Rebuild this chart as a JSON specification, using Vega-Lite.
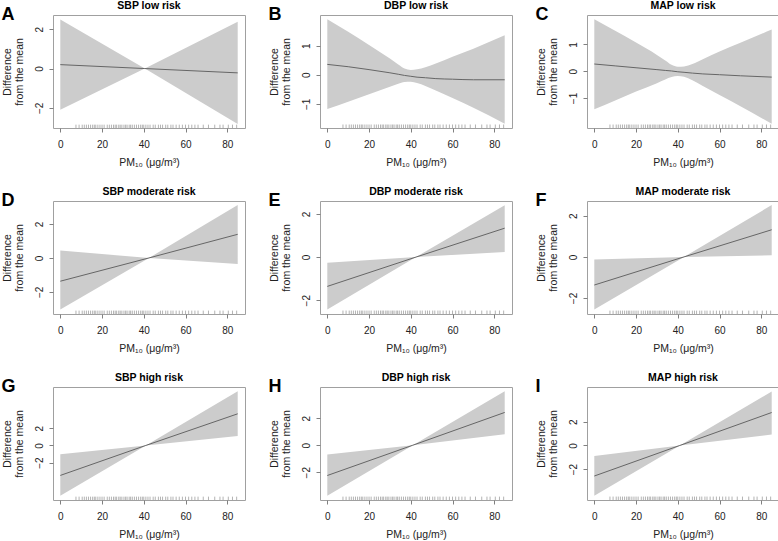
{
  "$schema": "https://vega.github.io/schema/vega-lite/v6.json",
  "padding": {"left": 1, "top": 0, "right": 0, "bottom": 0},
  "background": "white",
  "datasets": {
    "curves": [
      {"p": "A", "x": 0, "lo": -2.10, "fit": 0.20, "hi": 2.50},
      {"p": "A", "x": 40.5, "lo": 0, "fit": 0, "hi": 0},
      {"p": "A", "x": 85, "lo": -2.82, "fit": -0.22, "hi": 2.38},
      {"p": "B", "x": 0, "lo": -1.18, "fit": 0.36, "hi": 1.91},
      {"p": "B", "x": 10, "lo": -0.93, "fit": 0.28, "hi": 1.48},
      {"p": "B", "x": 20, "lo": -0.67, "fit": 0.18, "hi": 1.03},
      {"p": "B", "x": 30, "lo": -0.41, "fit": 0.07, "hi": 0.56},
      {"p": "B", "x": 34, "lo": -0.31, "fit": 0.02, "hi": 0.36},
      {"p": "B", "x": 37, "lo": -0.25, "fit": -0.02, "hi": 0.22},
      {"p": "B", "x": 40, "lo": -0.24, "fit": -0.05, "hi": 0.17},
      {"p": "B", "x": 43, "lo": -0.28, "fit": -0.08, "hi": 0.19},
      {"p": "B", "x": 47, "lo": -0.38, "fit": -0.10, "hi": 0.26},
      {"p": "B", "x": 52, "lo": -0.54, "fit": -0.13, "hi": 0.39},
      {"p": "B", "x": 60, "lo": -0.80, "fit": -0.15, "hi": 0.62},
      {"p": "B", "x": 70, "lo": -1.13, "fit": -0.17, "hi": 0.90},
      {"p": "B", "x": 85, "lo": -1.68, "fit": -0.17, "hi": 1.36},
      {"p": "C", "x": 0, "lo": -1.42, "fit": 0.27, "hi": 1.94},
      {"p": "C", "x": 10, "lo": -1.09, "fit": 0.20, "hi": 1.51},
      {"p": "C", "x": 20, "lo": -0.76, "fit": 0.13, "hi": 1.07},
      {"p": "C", "x": 30, "lo": -0.45, "fit": 0.06, "hi": 0.61},
      {"p": "C", "x": 34, "lo": -0.31, "fit": 0.03, "hi": 0.40},
      {"p": "C", "x": 37, "lo": -0.22, "fit": 0.01, "hi": 0.24},
      {"p": "C", "x": 40, "lo": -0.18, "fit": -0.02, "hi": 0.17},
      {"p": "C", "x": 43, "lo": -0.21, "fit": -0.04, "hi": 0.18},
      {"p": "C", "x": 47, "lo": -0.34, "fit": -0.07, "hi": 0.27},
      {"p": "C", "x": 52, "lo": -0.55, "fit": -0.10, "hi": 0.45},
      {"p": "C", "x": 60, "lo": -0.89, "fit": -0.13, "hi": 0.74},
      {"p": "C", "x": 70, "lo": -1.31, "fit": -0.17, "hi": 1.06},
      {"p": "C", "x": 85, "lo": -1.96, "fit": -0.22, "hi": 1.56},
      {"p": "D", "x": 0, "lo": -3.04, "fit": -1.37, "hi": 0.43},
      {"p": "D", "x": 42.5, "lo": 0, "fit": 0, "hi": 0},
      {"p": "D", "x": 85, "lo": -0.36, "fit": 1.39, "hi": 3.11},
      {"p": "E", "x": 0, "lo": -2.43, "fit": -1.36, "hi": -0.26},
      {"p": "E", "x": 42.5, "lo": 0, "fit": 0, "hi": 0},
      {"p": "E", "x": 85, "lo": 0.24, "fit": 1.34, "hi": 2.40},
      {"p": "F", "x": 0, "lo": -2.56, "fit": -1.37, "hi": -0.13},
      {"p": "F", "x": 43, "lo": 0, "fit": 0, "hi": 0},
      {"p": "F", "x": 85, "lo": 0.08, "fit": 1.32, "hi": 2.52},
      {"p": "G", "x": 0, "lo": -5.85, "fit": -3.49, "hi": -1.02},
      {"p": "G", "x": 41, "lo": 0, "fit": 0, "hi": 0},
      {"p": "G", "x": 85, "lo": 1.09, "fit": 3.68, "hi": 6.31},
      {"p": "H", "x": 0, "lo": -3.73, "fit": -2.24, "hi": -0.69},
      {"p": "H", "x": 41, "lo": 0, "fit": 0, "hi": 0},
      {"p": "H", "x": 85, "lo": 0.80, "fit": 2.42, "hi": 3.98},
      {"p": "I", "x": 0, "lo": -4.25, "fit": -2.59, "hi": -0.89},
      {"p": "I", "x": 41, "lo": 0, "fit": 0, "hi": 0},
      {"p": "I", "x": 85, "lo": 0.92, "fit": 2.79, "hi": 4.57}
    ],
    "rug": [
      {"x": 7.5}, {"x": 9}, {"x": 10.5}, {"x": 11.5}, {"x": 12.5}, {"x": 13.5}, {"x": 14.5}, {"x": 15.5}, {"x": 16.3}, {"x": 17}, {"x": 18}, {"x": 19}, {"x": 20}, {"x": 21}, {"x": 22.5}, {"x": 23.5}, {"x": 24.5}, {"x": 25.5}, {"x": 26.3}, {"x": 27}, {"x": 28}, {"x": 28.7}, {"x": 29.5}, {"x": 30.5}, {"x": 31.3}, {"x": 32}, {"x": 33}, {"x": 33.7}, {"x": 34.5}, {"x": 35.5}, {"x": 36.5}, {"x": 37.5}, {"x": 38.5}, {"x": 39.3}, {"x": 40}, {"x": 41}, {"x": 42}, {"x": 43}, {"x": 44.5}, {"x": 45.5}, {"x": 47}, {"x": 48}, {"x": 49}, {"x": 50.5}, {"x": 51.5}, {"x": 53}, {"x": 54}, {"x": 55.5}, {"x": 57}, {"x": 58.5}, {"x": 60}, {"x": 61.5}, {"x": 63}, {"x": 64.5}, {"x": 66}, {"x": 68.5}, {"x": 71}, {"x": 74}, {"x": 76.5}, {"x": 78}, {"x": 80.5}, {"x": 82.5}, {"x": 84.5}
    ]
  },
  "columns": 3,
  "spacing": {"row": 18, "column": 22},
  "concat": [
    {"title": {"text": "A", "fontSize": 18, "anchor": "start", "offset": -24}, "vconcat": [{"width": 192, "height": 113, "title": {"text": "SBP low risk"},
      "encoding": {"x": {"field": "x", "type": "quantitative", "scale": {"domain": [-3.5, 88.5], "nice": false, "zero": false}, "axis": {"values": [0, 20, 40, 60, 80], "title": "PM₁₀ (μg/m³)"}}},
      "layer": [
        {"data": {"name": "curves"}, "transform": [{"filter": "datum.p == 'A'"}], "mark": {"type": "area", "color": "#cccccc"}, "encoding": {"y": {"field": "lo", "type": "quantitative", "scale": {"domain": [-3.03, 2.73], "nice": false, "zero": false}, "axis": {"values": [-2, 0, 2], "title": ["Difference", "from the mean"]}}, "y2": {"field": "hi"}}},
        {"data": {"name": "curves"}, "transform": [{"filter": "datum.p == 'A'"}], "mark": {"type": "line", "color": "#666666", "strokeWidth": 1}, "encoding": {"y": {"field": "fit", "type": "quantitative"}}},
        {"data": {"name": "rug"}, "mark": {"type": "rule", "color": "#808080", "strokeWidth": 0.6}, "encoding": {"y": {"datum": -3.03}, "y2": {"datum": -2.86}}}
      ]}]},
    {"title": {"text": "B", "fontSize": 18, "anchor": "start", "offset": -24}, "vconcat": [{"width": 192, "height": 113, "title": {"text": "DBP low risk"},
      "encoding": {"x": {"field": "x", "type": "quantitative", "scale": {"domain": [-3.5, 88.5], "nice": false, "zero": false}, "axis": {"values": [0, 20, 40, 60, 80], "title": "PM₁₀ (μg/m³)"}}},
      "layer": [
        {"data": {"name": "curves"}, "transform": [{"filter": "datum.p == 'B'"}], "mark": {"type": "area", "color": "#cccccc", "interpolate": "monotone"}, "encoding": {"y": {"field": "lo", "type": "quantitative", "scale": {"domain": [-1.83, 2.06], "nice": false, "zero": false}, "axis": {"values": [-1, 0, 1], "title": ["Difference", "from the mean"]}}, "y2": {"field": "hi"}}},
        {"data": {"name": "curves"}, "transform": [{"filter": "datum.p == 'B'"}], "mark": {"type": "line", "color": "#666666", "strokeWidth": 1, "interpolate": "monotone"}, "encoding": {"y": {"field": "fit", "type": "quantitative"}}},
        {"data": {"name": "rug"}, "mark": {"type": "rule", "color": "#808080", "strokeWidth": 0.6}, "encoding": {"y": {"datum": -1.83}, "y2": {"datum": -1.71}}}
      ]}]},
    {"title": {"text": "C", "fontSize": 18, "anchor": "start", "offset": -24}, "vconcat": [{"width": 192, "height": 113, "title": {"text": "MAP low risk"},
      "encoding": {"x": {"field": "x", "type": "quantitative", "scale": {"domain": [-3.5, 88.5], "nice": false, "zero": false}, "axis": {"values": [0, 20, 40, 60, 80], "title": "PM₁₀ (μg/m³)"}}},
      "layer": [
        {"data": {"name": "curves"}, "transform": [{"filter": "datum.p == 'C'"}], "mark": {"type": "area", "color": "#cccccc", "interpolate": "monotone"}, "encoding": {"y": {"field": "lo", "type": "quantitative", "scale": {"domain": [-2.12, 2.1], "nice": false, "zero": false}, "axis": {"values": [-1, 0, 1], "title": ["Difference", "from the mean"]}}, "y2": {"field": "hi"}}},
        {"data": {"name": "curves"}, "transform": [{"filter": "datum.p == 'C'"}], "mark": {"type": "line", "color": "#666666", "strokeWidth": 1, "interpolate": "monotone"}, "encoding": {"y": {"field": "fit", "type": "quantitative"}}},
        {"data": {"name": "rug"}, "mark": {"type": "rule", "color": "#808080", "strokeWidth": 0.6}, "encoding": {"y": {"datum": -2.12}, "y2": {"datum": -1.99}}}
      ]}]},
    {"title": {"text": "D", "fontSize": 18, "anchor": "start", "offset": -24}, "vconcat": [{"width": 192, "height": 113, "title": {"text": "SBP moderate risk"},
      "encoding": {"x": {"field": "x", "type": "quantitative", "scale": {"domain": [-3.5, 88.5], "nice": false, "zero": false}, "axis": {"values": [0, 20, 40, 60, 80], "title": "PM₁₀ (μg/m³)"}}},
      "layer": [
        {"data": {"name": "curves"}, "transform": [{"filter": "datum.p == 'D'"}], "mark": {"type": "area", "color": "#cccccc"}, "encoding": {"y": {"field": "lo", "type": "quantitative", "scale": {"domain": [-3.3, 3.35], "nice": false, "zero": false}, "axis": {"values": [-2, 0, 2], "title": ["Difference", "from the mean"]}}, "y2": {"field": "hi"}}},
        {"data": {"name": "curves"}, "transform": [{"filter": "datum.p == 'D'"}], "mark": {"type": "line", "color": "#666666", "strokeWidth": 1}, "encoding": {"y": {"field": "fit", "type": "quantitative"}}},
        {"data": {"name": "rug"}, "mark": {"type": "rule", "color": "#808080", "strokeWidth": 0.6}, "encoding": {"y": {"datum": -3.3}, "y2": {"datum": -3.1}}}
      ]}]},
    {"title": {"text": "E", "fontSize": 18, "anchor": "start", "offset": -24}, "vconcat": [{"width": 192, "height": 113, "title": {"text": "DBP moderate risk"},
      "encoding": {"x": {"field": "x", "type": "quantitative", "scale": {"domain": [-3.5, 88.5], "nice": false, "zero": false}, "axis": {"values": [0, 20, 40, 60, 80], "title": "PM₁₀ (μg/m³)"}}},
      "layer": [
        {"data": {"name": "curves"}, "transform": [{"filter": "datum.p == 'E'"}], "mark": {"type": "area", "color": "#cccccc"}, "encoding": {"y": {"field": "lo", "type": "quantitative", "scale": {"domain": [-2.64, 2.6], "nice": false, "zero": false}, "axis": {"values": [-2, 0, 2], "title": ["Difference", "from the mean"]}}, "y2": {"field": "hi"}}},
        {"data": {"name": "curves"}, "transform": [{"filter": "datum.p == 'E'"}], "mark": {"type": "line", "color": "#666666", "strokeWidth": 1}, "encoding": {"y": {"field": "fit", "type": "quantitative"}}},
        {"data": {"name": "rug"}, "mark": {"type": "rule", "color": "#808080", "strokeWidth": 0.6}, "encoding": {"y": {"datum": -2.64}, "y2": {"datum": -2.48}}}
      ]}]},
    {"title": {"text": "F", "fontSize": 18, "anchor": "start", "offset": -24}, "vconcat": [{"width": 192, "height": 113, "title": {"text": "MAP moderate risk"},
      "encoding": {"x": {"field": "x", "type": "quantitative", "scale": {"domain": [-3.5, 88.5], "nice": false, "zero": false}, "axis": {"values": [0, 20, 40, 60, 80], "title": "PM₁₀ (μg/m³)"}}},
      "layer": [
        {"data": {"name": "curves"}, "transform": [{"filter": "datum.p == 'F'"}], "mark": {"type": "area", "color": "#cccccc"}, "encoding": {"y": {"field": "lo", "type": "quantitative", "scale": {"domain": [-2.78, 2.72], "nice": false, "zero": false}, "axis": {"values": [-2, 0, 2], "title": ["Difference", "from the mean"]}}, "y2": {"field": "hi"}}},
        {"data": {"name": "curves"}, "transform": [{"filter": "datum.p == 'F'"}], "mark": {"type": "line", "color": "#666666", "strokeWidth": 1}, "encoding": {"y": {"field": "fit", "type": "quantitative"}}},
        {"data": {"name": "rug"}, "mark": {"type": "rule", "color": "#808080", "strokeWidth": 0.6}, "encoding": {"y": {"datum": -2.78}, "y2": {"datum": -2.615}}}
      ]}]},
    {"title": {"text": "G", "fontSize": 18, "anchor": "start", "offset": -24}, "vconcat": [{"width": 192, "height": 113, "title": {"text": "SBP high risk"},
      "encoding": {"x": {"field": "x", "type": "quantitative", "scale": {"domain": [-3.5, 88.5], "nice": false, "zero": false}, "axis": {"values": [0, 20, 40, 60, 80], "title": "PM₁₀ (μg/m³)"}}},
      "layer": [
        {"data": {"name": "curves"}, "transform": [{"filter": "datum.p == 'G'"}], "mark": {"type": "area", "color": "#cccccc"}, "encoding": {"y": {"field": "lo", "type": "quantitative", "scale": {"domain": [-6.35, 6.8], "nice": false, "zero": false}, "axis": {"values": [-2, 0, 2], "title": ["Difference", "from the mean"]}}, "y2": {"field": "hi"}}},
        {"data": {"name": "curves"}, "transform": [{"filter": "datum.p == 'G'"}], "mark": {"type": "line", "color": "#666666", "strokeWidth": 1}, "encoding": {"y": {"field": "fit", "type": "quantitative"}}},
        {"data": {"name": "rug"}, "mark": {"type": "rule", "color": "#808080", "strokeWidth": 0.6}, "encoding": {"y": {"datum": -6.35}, "y2": {"datum": -5.96}}}
      ]}]},
    {"title": {"text": "H", "fontSize": 18, "anchor": "start", "offset": -24}, "vconcat": [{"width": 192, "height": 113, "title": {"text": "DBP high risk"},
      "encoding": {"x": {"field": "x", "type": "quantitative", "scale": {"domain": [-3.5, 88.5], "nice": false, "zero": false}, "axis": {"values": [0, 20, 40, 60, 80], "title": "PM₁₀ (μg/m³)"}}},
      "layer": [
        {"data": {"name": "curves"}, "transform": [{"filter": "datum.p == 'H'"}], "mark": {"type": "area", "color": "#cccccc"}, "encoding": {"y": {"field": "lo", "type": "quantitative", "scale": {"domain": [-4.05, 4.3], "nice": false, "zero": false}, "axis": {"values": [-2, 0, 2], "title": ["Difference", "from the mean"]}}, "y2": {"field": "hi"}}},
        {"data": {"name": "curves"}, "transform": [{"filter": "datum.p == 'H'"}], "mark": {"type": "line", "color": "#666666", "strokeWidth": 1}, "encoding": {"y": {"field": "fit", "type": "quantitative"}}},
        {"data": {"name": "rug"}, "mark": {"type": "rule", "color": "#808080", "strokeWidth": 0.6}, "encoding": {"y": {"datum": -4.05}, "y2": {"datum": -3.8}}}
      ]}]},
    {"title": {"text": "I", "fontSize": 18, "anchor": "start", "offset": -24}, "vconcat": [{"width": 192, "height": 113, "title": {"text": "MAP high risk"},
      "encoding": {"x": {"field": "x", "type": "quantitative", "scale": {"domain": [-3.5, 88.5], "nice": false, "zero": false}, "axis": {"values": [0, 20, 40, 60, 80], "title": "PM₁₀ (μg/m³)"}}},
      "layer": [
        {"data": {"name": "curves"}, "transform": [{"filter": "datum.p == 'I'"}], "mark": {"type": "area", "color": "#cccccc"}, "encoding": {"y": {"field": "lo", "type": "quantitative", "scale": {"domain": [-4.62, 4.95], "nice": false, "zero": false}, "axis": {"values": [-2, 0, 2], "title": ["Difference", "from the mean"]}}, "y2": {"field": "hi"}}},
        {"data": {"name": "curves"}, "transform": [{"filter": "datum.p == 'I'"}], "mark": {"type": "line", "color": "#666666", "strokeWidth": 1}, "encoding": {"y": {"field": "fit", "type": "quantitative"}}},
        {"data": {"name": "rug"}, "mark": {"type": "rule", "color": "#808080", "strokeWidth": 0.6}, "encoding": {"y": {"datum": -4.62}, "y2": {"datum": -4.33}}}
      ]}]}
  ],
  "config": {
    "font": "Liberation Sans",
    "view": {"stroke": "#a0a0a0", "strokeWidth": 1},
    "axis": {"grid": false, "domain": false, "tickColor": "#808080", "tickSize": 4, "labelFont": "Liberation Sans", "labelFontSize": 10, "labelColor": "#222222", "labelPadding": 5, "titleFont": "Liberation Sans", "titleFontSize": 10.5, "titleFontWeight": "normal", "titleColor": "#222222"},
    "axisX": {"labelPadding": 7, "titlePadding": 8, "labelFlush": false},
    "axisY": {"labelAngle": -90, "labelAlign": "center", "labelBaseline": "bottom", "titlePadding": 10, "titleLineHeight": 12},
    "title": {"font": "Liberation Sans", "fontSize": 10.5, "fontWeight": "bold", "color": "#000000", "offset": 4}
  }
}
